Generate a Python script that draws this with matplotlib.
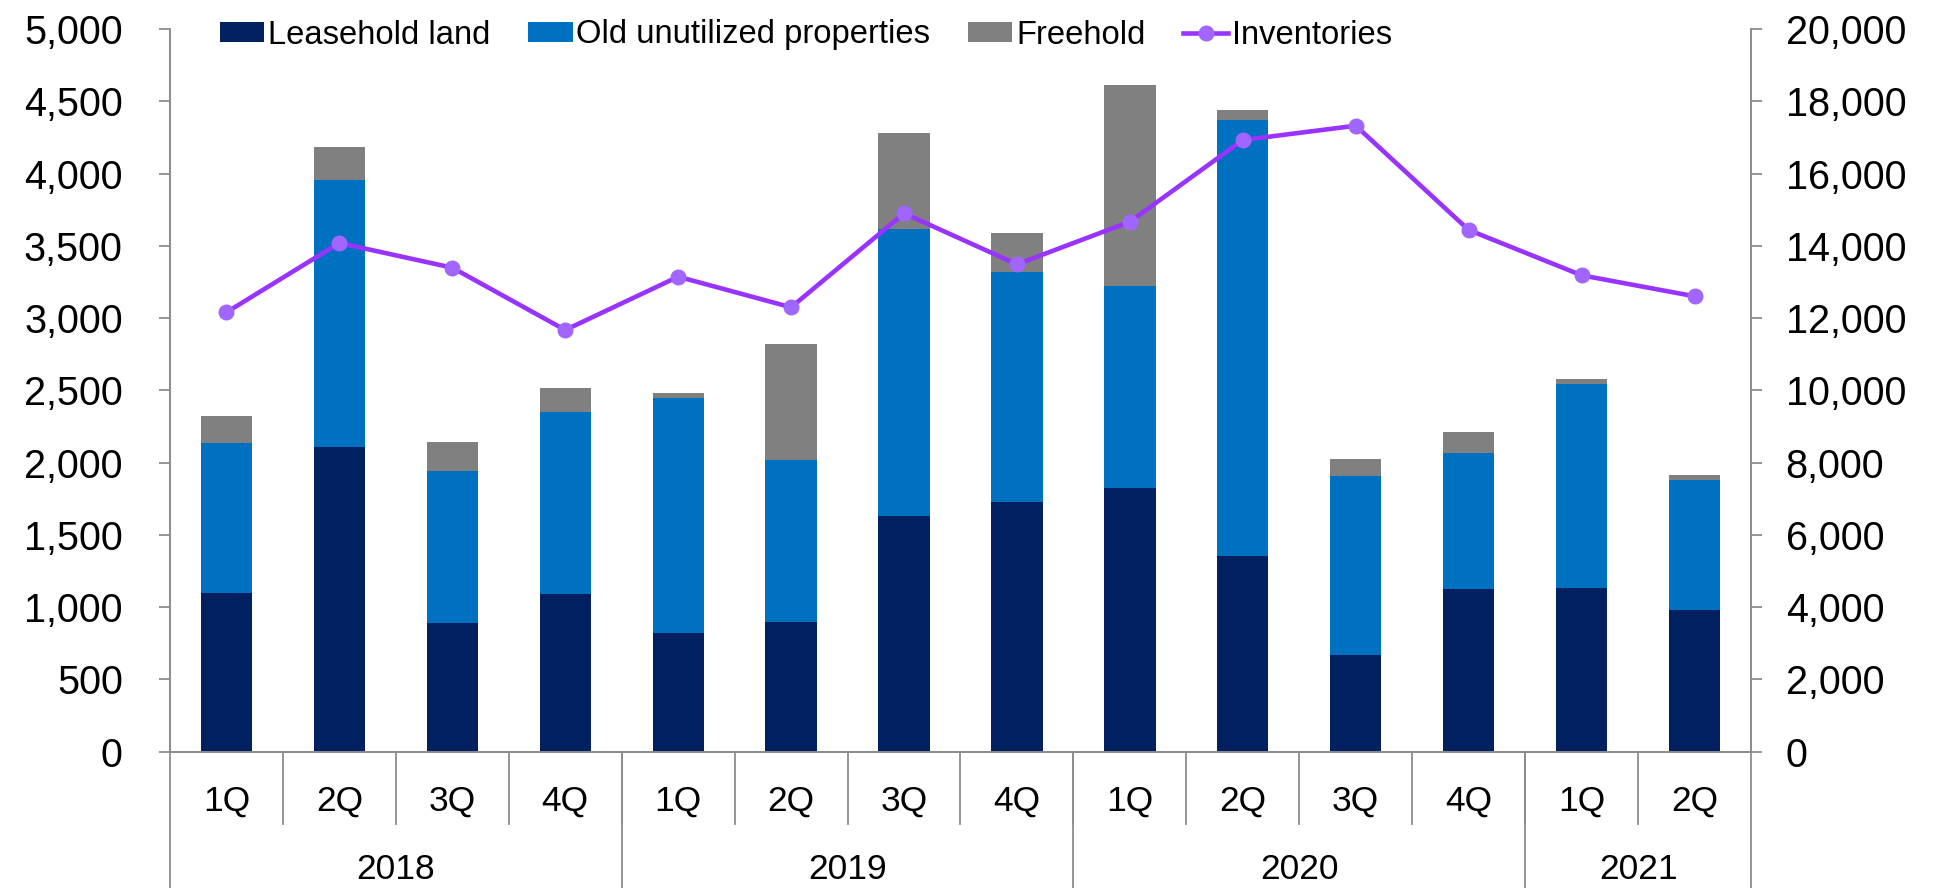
import matplotlib
matplotlib.use("Agg")
import matplotlib.pyplot as plt
import matplotlib.transforms as mtransforms
from matplotlib.ticker import FuncFormatter, MultipleLocator
import numpy as np

plt.rcParams['font.family'] = ['Liberation Sans', 'DejaVu Sans']

quarters = ["1Q", "2Q", "3Q", "4Q", "1Q", "2Q", "3Q", "4Q", "1Q", "2Q", "3Q", "4Q", "1Q", "2Q"]
years = ["2018", "2019", "2020", "2021"]
year_counts = [4, 4, 4, 2]

leasehold = [1095, 2106, 890, 1093, 823, 895, 1633, 1730, 1822, 1356, 671, 1128, 1135, 983]
old_unutilized = [1043, 1851, 1054, 1259, 1622, 1123, 1983, 1589, 1402, 3017, 1239, 941, 1407, 899]
freehold = [182, 227, 201, 164, 37, 805, 667, 272, 1391, 64, 117, 145, 37, 32]
inventories = [12160, 14078, 13394, 11670, 13145, 12298, 14900, 13488, 14667, 16928, 17324, 14438, 13184, 12603]

c_lease = "#002060"
c_old = "#0070C0"
c_free = "#808080"
c_line = "#9933FF"
c_marker = "#A066FF"
c_axis = "#8C8C8C"

fig = plt.figure(figsize=(19.4, 8.88), dpi=100)
ax = fig.add_axes([170/1940, 1-751.7/888, (1751-170)/1940, 722.7/888])
ax2 = ax.twinx()

x = np.arange(len(quarters))
w = 0.454
lease = np.array(leasehold)
old = np.array(old_unutilized)
free = np.array(freehold)
b1 = ax.bar(x, lease, w, color=c_lease, label="Leasehold land", zorder=2)
b2 = ax.bar(x, old, w, bottom=lease, color=c_old, label="Old unutilized properties", zorder=2)
b3 = ax.bar(x, free, w, bottom=lease+old, color=c_free, label="Freehold", zorder=2)

l1, = ax2.plot(x, inventories, color=c_line, lw=3.3, marker='o', markersize=10.5,
               markerfacecolor=c_marker, markeredgecolor=c_marker, label="Inventories", zorder=3)

ax.set_xlim(-0.5, len(quarters)-0.5)
ax.set_ylim(0, 5000)
ax2.set_ylim(0, 20000)
ax.yaxis.set_major_locator(MultipleLocator(500))
ax2.yaxis.set_major_locator(MultipleLocator(2000))
fmt = FuncFormatter(lambda v, p: f"{int(v):,}")
ax.yaxis.set_major_formatter(fmt)
ax2.yaxis.set_major_formatter(fmt)

for a in (ax, ax2):
    a.spines['top'].set_visible(False)
    for s in ('left', 'right', 'bottom'):
        a.spines[s].set_color(c_axis)
        a.spines[s].set_linewidth(1.3)
    a.set_xticks([])
ax.tick_params(axis='y', direction='out', length=8, width=1.3, color=c_axis, labelsize=28.5, pad=26)
ax2.tick_params(axis='y', direction='out', length=8, width=1.3, color=c_axis, labelsize=28.5, pad=17)

trans = mtransforms.blended_transform_factory(ax.transData, ax.transAxes)
q_low = (751.7-824)/722.7
y_low = (751.7-888)/722.7
for i, q in enumerate(quarters):
    ax.text(i, (751.7-801)/722.7, q, transform=trans, ha='center', va='center', fontsize=25.5)
for k in range(len(quarters)-1):
    ax.plot([k+0.5, k+0.5], [0, q_low], transform=trans, color=c_axis, lw=1.3, clip_on=False)
start = -0.5
bounds = [start]
for yl, n in zip(years, year_counts):
    end = start + n
    ax.text((start+end)/2, (751.7-869)/722.7, yl, transform=trans, ha='center', va='center', fontsize=25.5)
    bounds.append(end)
    start = end
for bx in bounds:
    ax.plot([bx, bx], [0, y_low], transform=trans, color=c_axis, lw=1.3, clip_on=False)

handles = [b1, b2, b3, l1]
labels = [h.get_label() for h in handles]
fig.legend(handles, labels, loc='center left', bbox_to_anchor=(220/1940, 1-35/888),
           ncol=4, frameon=False, fontsize=23.6, handlelength=1.35, handleheight=0.55,
           handletextpad=0.12, columnspacing=1.15, borderpad=0, borderaxespad=0)

fig.savefig("out.png", dpi=100)
